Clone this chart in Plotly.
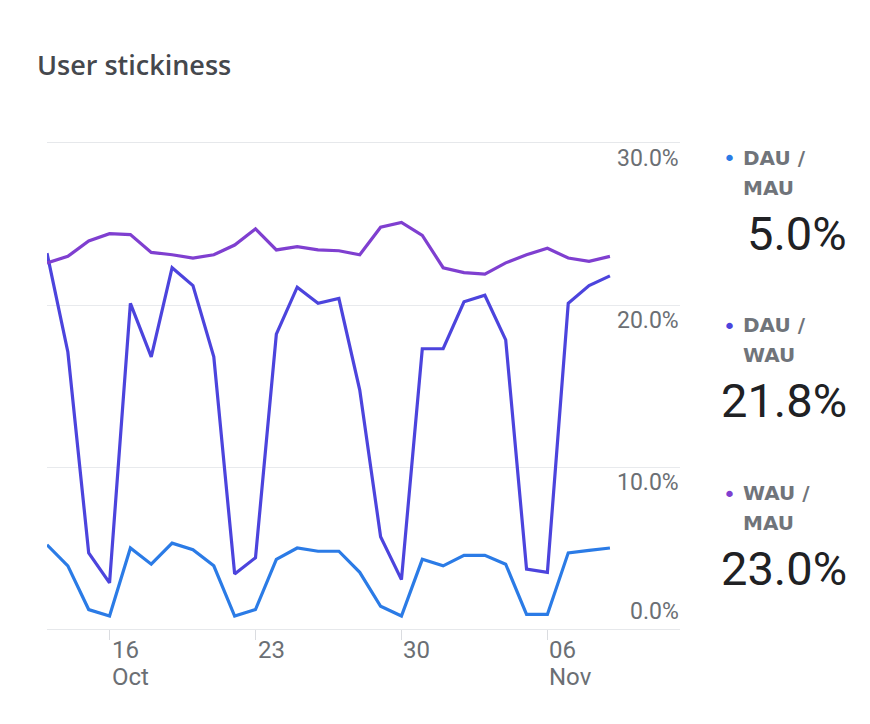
import pandas as pd
import plotly.graph_objects as go

# === DATOS ===
dates = pd.date_range("2023-10-13", "2023-11-09", freq="D")

dau_mau = [5.2, 3.9, 1.2, 0.8, 5.0, 4.0, 5.3, 4.9, 3.9, 0.8, 1.2, 4.3, 5.0, 4.8,
           4.8, 3.5, 1.4, 0.8, 4.3, 3.9, 4.55, 4.55, 4.0, 0.9, 0.9, 4.7, 4.85, 5.0]
dau_wau = [23.2, 17.1, 4.7, 2.85, 20.1, 16.8, 22.3, 21.2, 16.8, 3.4, 4.4, 18.2, 21.1, 20.1,
           20.4, 14.75, 5.7, 3.05, 17.3, 17.3, 20.2, 20.6, 17.85, 3.7, 3.5, 20.1, 21.2, 21.8]
wau_mau = [22.6, 23.0, 23.95, 24.4, 24.35, 23.25, 23.1, 22.9, 23.1, 23.7, 24.7, 23.4, 23.6, 23.4,
           23.35, 23.1, 24.8, 25.1, 24.3, 22.3, 22.0, 21.9, 22.6, 23.1, 23.5, 22.9, 22.7, 23.0]

series_names = [("DAU /", "MAU"), ("DAU /", "WAU"), ("WAU /", "MAU")]
series_colors = ["#2b7be6", "#4c44dd", "#7f3fd0"]
summary_values = ["5.0%", "21.8%", "23.0%"]

x_tick_vals = pd.to_datetime(["2023-10-16", "2023-10-23", "2023-10-30", "2023-11-06"])
x_tick_days = ["16", "23", "30", "06"]
x_tick_months = ["Oct", "", "", "Nov"]
y_tick_vals = [0, 10, 20, 30]
y_tick_text = ["0.0%", "10.0%", "20.0%", "30.0%"]

# === GEOMETRIA (pixeles) ===
W, H = 870, 724
L, R, T, B = 47, 190, 143, 95
PW, PH = W - L - R, H - T - B


def px(xp):
    return (xp - L) / PW


def py(yp):
    return (H - B - yp) / PH


# === FIGURA ===
fig = go.Figure()
for vals, name, color in zip([dau_mau, dau_wau, wau_mau], series_names, series_colors):
    fig.add_trace(go.Scatter(
        x=dates, y=vals, mode="lines", name=" ".join(name),
        line=dict(color=color, width=3.2), showlegend=False
    ))

# el area de grafico se extiende mas alla de los datos (bajo las etiquetas del eje y)
x_end = dates[0] + pd.Timedelta(days=30.36)

fig.update_layout(
    width=W, height=H,
    margin=dict(l=L, r=R, t=T, b=B),
    plot_bgcolor="white", paper_bgcolor="white",
    font=dict(family="Roboto, sans-serif", color="#5f6368"),
    xaxis=dict(
        range=[dates[0], x_end], tickvals=x_tick_vals, showticklabels=False,
        ticks="outside", ticklen=10, tickcolor="#dadce0", tickwidth=1,
        showgrid=False, showline=True, mirror=True, linecolor="#e6e8eb", linewidth=1,
        zeroline=False
    ),
    yaxis=dict(
        range=[0, 30], tickvals=y_tick_vals, showticklabels=False,
        showgrid=True, gridcolor="#e8eaed", gridwidth=1, zeroline=False
    ),
)

# etiquetas del eje x (alineadas a la izquierda del tick)
for xv, day, month in zip(x_tick_vals, x_tick_days, x_tick_months):
    fig.add_annotation(x=xv, xref="x", y=py(650), yref="paper", text=day, showarrow=False,
                       xanchor="left", yanchor="middle",
                       font=dict(size=24, color="#6b6f74"))
    if month:
        fig.add_annotation(x=xv, xref="x", y=py(677), yref="paper", text=month, showarrow=False,
                           xanchor="left", yanchor="middle",
                           font=dict(size=24, color="#6b6f74"))

# etiquetas del eje y (a la derecha, sobre las lineas de la rejilla)
for yv, txt in zip(y_tick_vals, y_tick_text):
    fig.add_annotation(x=px(681), xref="paper", y=yv, yref="y", text=txt, showarrow=False,
                       xanchor="right", yanchor="bottom" if yv == 0 else "top",
                       yshift=2 if yv == 0 else 0,
                       font=dict(size=23, color="#6b6f74"))

# titulo
fig.add_annotation(x=px(35), y=py(64), xref="paper", yref="paper", text="User stickiness",
                   showarrow=False, xanchor="left", yanchor="middle",
                   font=dict(size=27, color="#45484d", family="Open Sans", weight=600))

# leyenda lateral con valores actuales
legend_y = [158, 325, 493]
for yc, (l1, l2), color, val in zip(legend_y, series_names, series_colors, summary_values):
    fig.add_annotation(x=px(729), y=py(yc + 1), xref="paper", yref="paper", text="•",
                       showarrow=False, xanchor="center", yanchor="middle",
                       font=dict(size=22, color=color, family="DejaVu Sans"))
    fig.add_annotation(x=px(741), y=py(yc), xref="paper", yref="paper", text=l1,
                       showarrow=False, xanchor="left", yanchor="middle",
                       font=dict(size=20, color="#70747a", family="DejaVu Sans", weight="bold"))
    fig.add_annotation(x=px(741), y=py(yc + 30), xref="paper", yref="paper", text=l2,
                       showarrow=False, xanchor="left", yanchor="middle",
                       font=dict(size=20, color="#70747a", family="DejaVu Sans", weight="bold"))
    fig.add_annotation(x=px(849), y=py(yc + 75), xref="paper", yref="paper", text=val,
                       showarrow=False, xanchor="right", yanchor="middle",
                       font=dict(size=47, color="#202124", family="Roboto, sans-serif"))

fig.write_html("out.html", config={"displayModeBar": False},
               post_script="document.body.style.margin='0';")
